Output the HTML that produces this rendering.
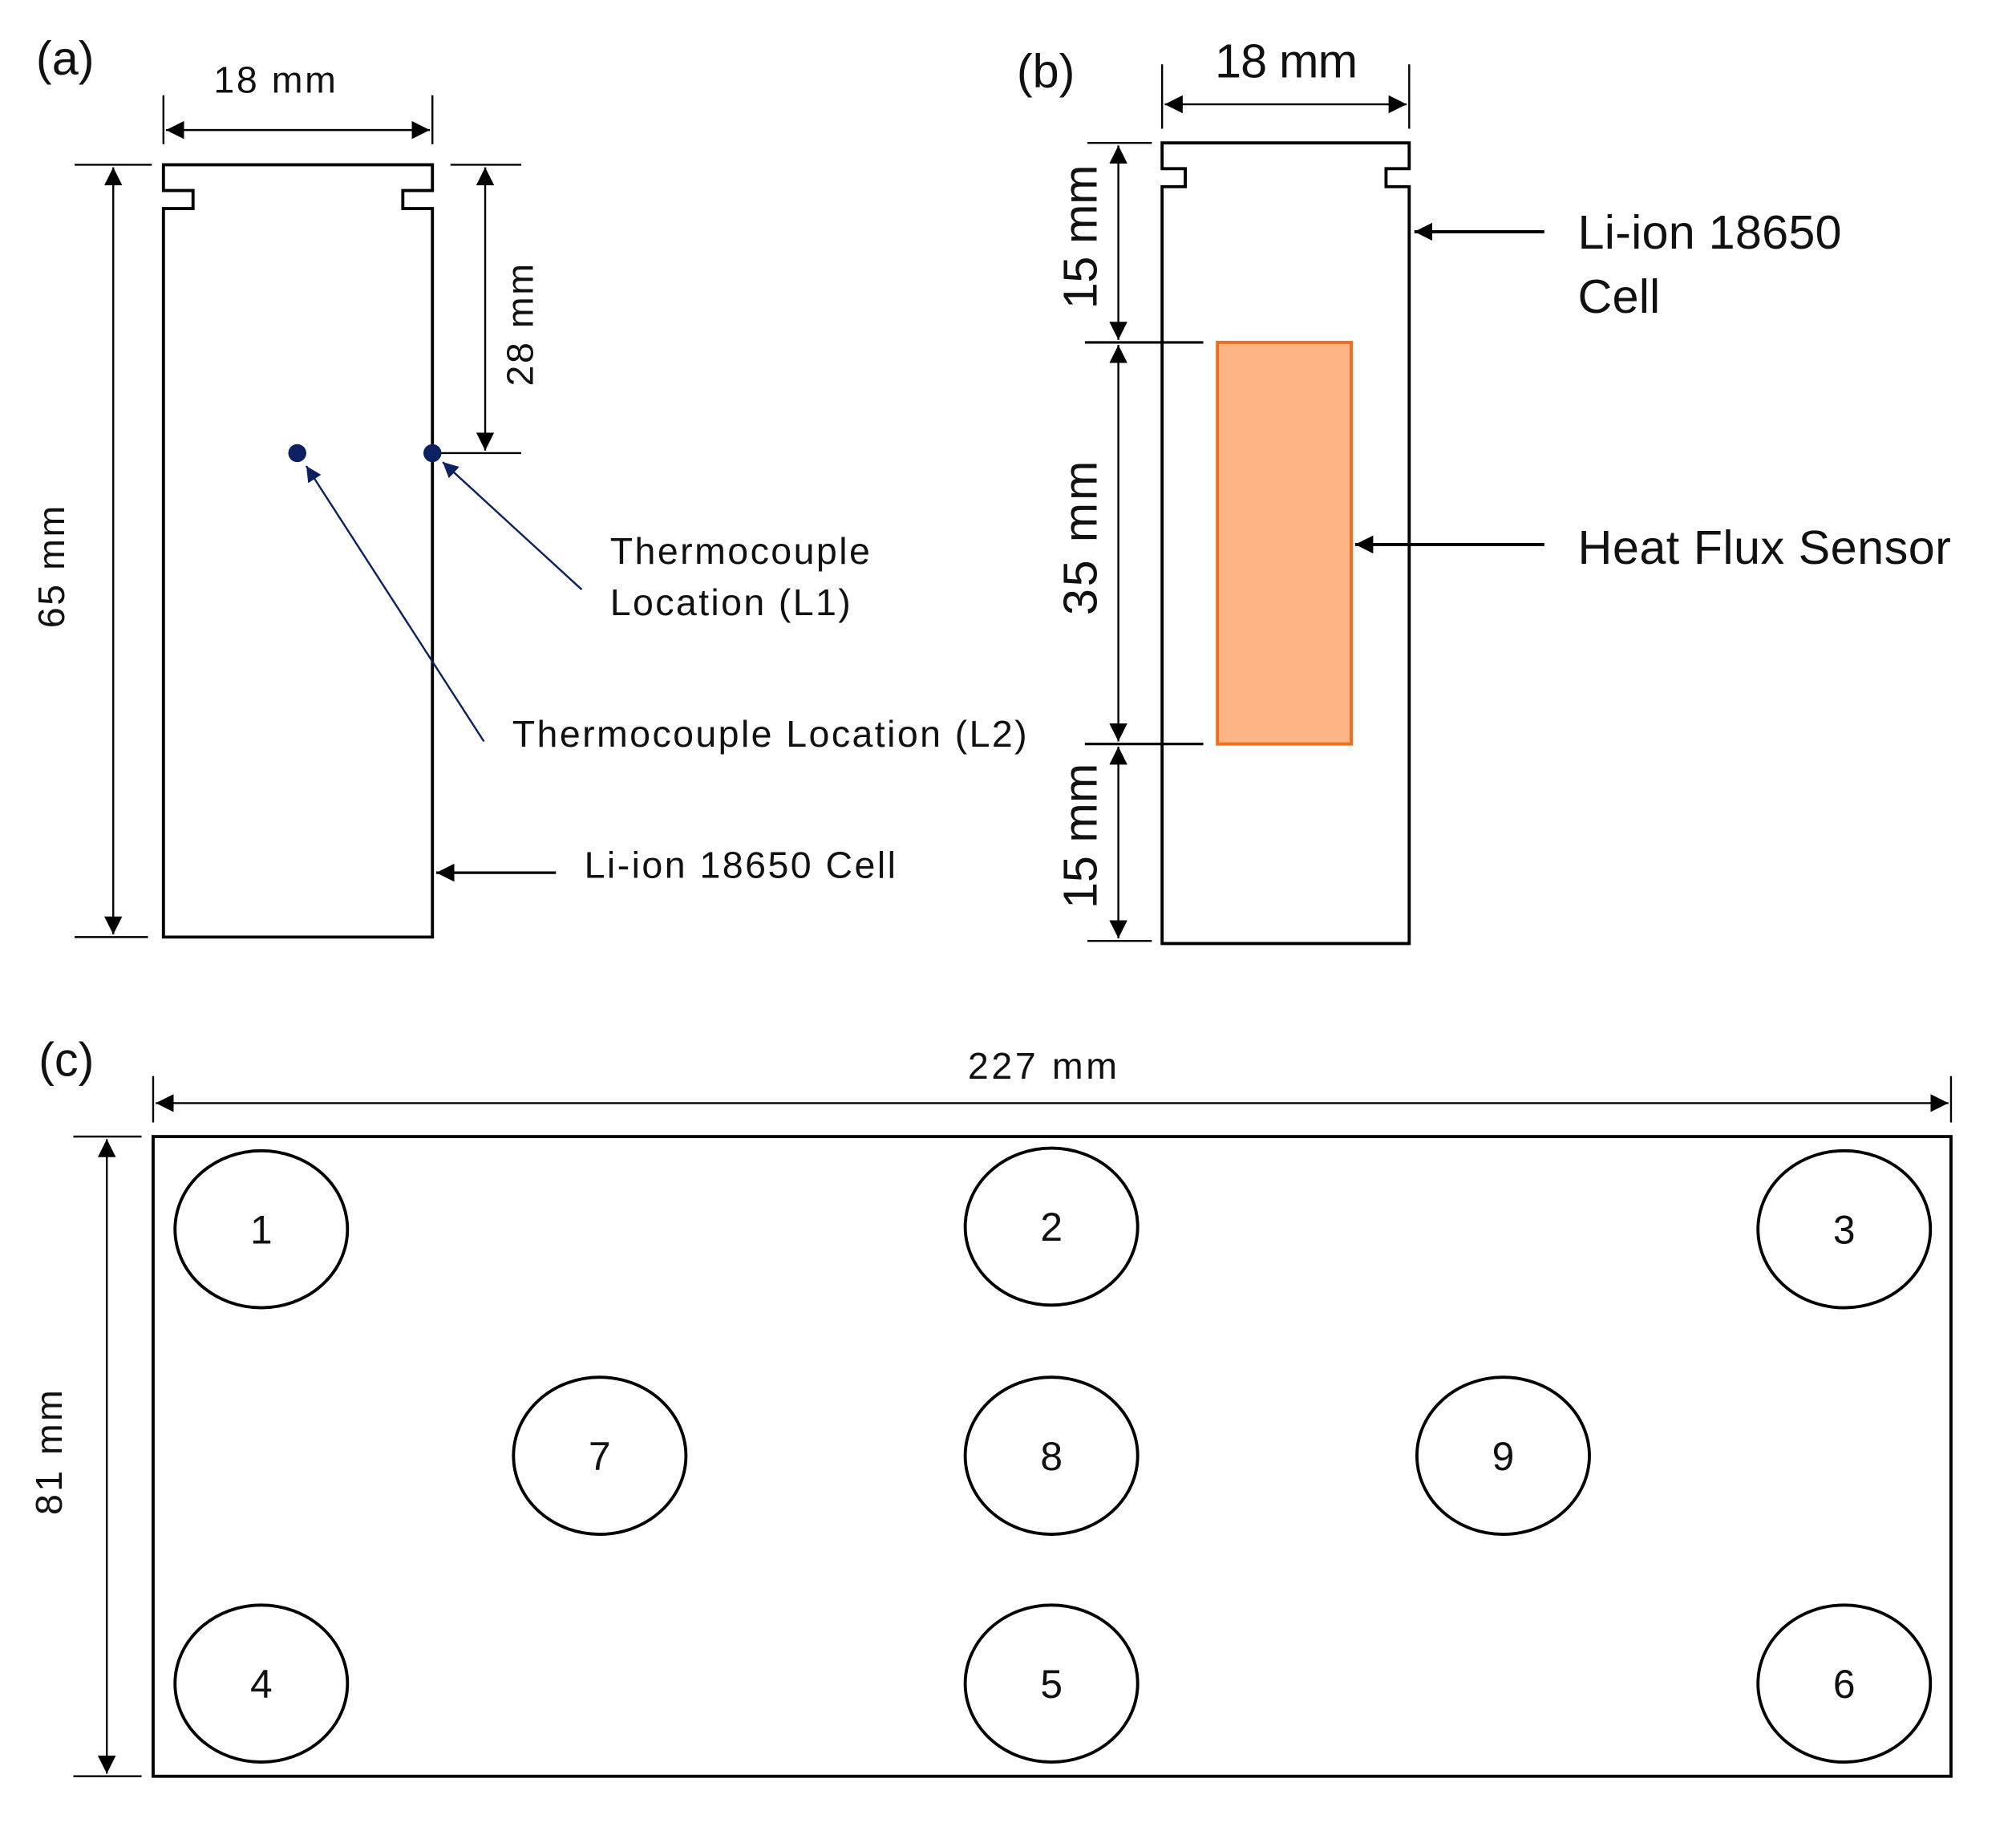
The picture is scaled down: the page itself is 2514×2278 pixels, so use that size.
<!DOCTYPE html>
<html><head><meta charset="utf-8"><style>
html,body{margin:0;padding:0;background:#fff;}
svg{display:block;}
text{font-family:"Liberation Sans",Arial,sans-serif;fill:#111;}
</style></head><body>
<svg width="2514" height="2278" viewBox="0 0 1566.5 1419.4" xmlns="http://www.w3.org/2000/svg">
<defs>
<marker id="ahb" viewBox="0 0 10 10" refX="10" refY="5" markerWidth="14" markerHeight="14" markerUnits="userSpaceOnUse" orient="auto-start-reverse"><path d="M0,0 L10,5 L0,10 z" fill="#000"/></marker>
<marker id="ahn" viewBox="0 0 10 10" refX="10" refY="5" markerWidth="12" markerHeight="12" markerUnits="userSpaceOnUse" orient="auto"><path d="M0,0 L10,5 L0,10 z" fill="#0d2060"/></marker>
</defs>
<g fill="none" stroke="#000" stroke-width="2.4">
<path d="M127,728 L127,162 L150,162 L150,148 L127,148 L127,128 L336,128 L336,148 L313,148 L313,162 L336,162 L336,728 Z"/>
<line x1="127" y1="74" x2="127" y2="112" stroke-width="1.5"/>
<line x1="336" y1="74" x2="336" y2="112" stroke-width="1.5"/>
<line x1="129" y1="101" x2="334" y2="101" stroke-width="1.5" marker-start="url(#ahb)" marker-end="url(#ahb)"/>
<line x1="58" y1="128" x2="118" y2="128" stroke-width="1.5"/>
<line x1="58" y1="728" x2="115" y2="728" stroke-width="1.5"/>
<line x1="88" y1="130" x2="88" y2="726" stroke-width="1.5" marker-start="url(#ahb)" marker-end="url(#ahb)"/>
<line x1="350" y1="128" x2="405" y2="128" stroke-width="1.5"/>
<line x1="340" y1="352" x2="405" y2="352" stroke-width="1.5"/>
<line x1="377" y1="130" x2="377" y2="350" stroke-width="1.5" marker-start="url(#ahb)" marker-end="url(#ahb)"/>
<line x1="432" y1="678" x2="339" y2="678" stroke-width="2" marker-end="url(#ahb)"/>
<path d="M903,733 L903,145 L921,145 L921,131 L903,131 L903,111 L1095,111 L1095,131 L1077,131 L1077,145 L1095,145 L1095,733 Z"/>
<line x1="903" y1="50" x2="903" y2="100" stroke-width="1.5"/>
<line x1="1095" y1="50" x2="1095" y2="100" stroke-width="1.5"/>
<line x1="905" y1="81" x2="1093" y2="81" stroke-width="1.5" marker-start="url(#ahb)" marker-end="url(#ahb)"/>
<line x1="845" y1="111" x2="895" y2="111" stroke-width="1.5"/>
<line x1="843" y1="266" x2="935" y2="266" stroke-width="2"/>
<line x1="843" y1="578" x2="935" y2="578" stroke-width="2"/>
<line x1="845" y1="731" x2="895" y2="731" stroke-width="1.5"/>
<line x1="869" y1="113" x2="869" y2="264" stroke-width="1.5" marker-start="url(#ahb)" marker-end="url(#ahb)"/>
<line x1="869" y1="268" x2="869" y2="576" stroke-width="1.5" marker-start="url(#ahb)" marker-end="url(#ahb)"/>
<line x1="869" y1="580" x2="869" y2="729" stroke-width="1.5" marker-start="url(#ahb)" marker-end="url(#ahb)"/>
<line x1="1200" y1="180" x2="1099" y2="180" stroke-width="2.4" marker-end="url(#ahb)"/>
<line x1="1200" y1="423" x2="1053" y2="423" stroke-width="2.4" marker-end="url(#ahb)"/>
<rect x="119" y="883" width="1397" height="497"/>
<line x1="119" y1="836" x2="119" y2="872" stroke-width="1.5"/>
<line x1="1516" y1="836" x2="1516" y2="872" stroke-width="1.5"/>
<line x1="121" y1="857" x2="1514" y2="857" stroke-width="1.5" marker-start="url(#ahb)" marker-end="url(#ahb)"/>
<line x1="57" y1="883" x2="110" y2="883" stroke-width="1.5"/>
<line x1="57" y1="1380" x2="110" y2="1380" stroke-width="1.5"/>
<line x1="83" y1="885" x2="83" y2="1378" stroke-width="1.5" marker-start="url(#ahb)" marker-end="url(#ahb)"/>
<ellipse cx="203" cy="955" rx="67" ry="61"/>
<ellipse cx="817" cy="953" rx="67" ry="61"/>
<ellipse cx="1433" cy="955" rx="67" ry="61"/>
<ellipse cx="466" cy="1131" rx="67" ry="61"/>
<ellipse cx="817" cy="1131" rx="67" ry="61"/>
<ellipse cx="1168" cy="1131" rx="67" ry="61"/>
<ellipse cx="203" cy="1308" rx="67" ry="61"/>
<ellipse cx="817" cy="1308" rx="67" ry="61"/>
<ellipse cx="1433" cy="1308" rx="67" ry="61"/>
</g>
<rect x="946" y="266" width="104" height="312" fill="#fdb585" stroke="#ed7021" stroke-width="2.5"/>
<circle cx="231" cy="352" r="7" fill="#0d2060"/>
<circle cx="336" cy="352" r="7" fill="#0d2060"/>
<line x1="452" y1="458" x2="344" y2="359" stroke="#0d2060" stroke-width="1.5" marker-end="url(#ahn)"/>
<line x1="376" y1="576" x2="238" y2="362" stroke="#0d2060" stroke-width="1.5" marker-end="url(#ahn)"/>
<text x="28" y="58" font-size="37">(a)</text>
<text x="790" y="68" font-size="37">(b)</text>
<text x="30" y="836" font-size="37">(c)</text>
<text x="166" y="72" font-size="29" textLength="95">18 mm</text>
<text transform="translate(50,488) rotate(-90)" font-size="29" textLength="95">65 mm</text>
<text transform="translate(414,300) rotate(-90)" font-size="29" textLength="95">28 mm</text>
<text x="474" y="438" font-size="29" textLength="202">Thermocouple</text>
<text x="474" y="478" font-size="29" textLength="187">Location (L1)</text>
<text x="398" y="580" font-size="29" textLength="400">Thermocouple Location (L2)</text>
<text x="454" y="682" font-size="29" textLength="242">Li-ion 18650 Cell</text>
<text x="944" y="60" font-size="37" textLength="111">18 mm</text>
<text transform="translate(852,240) rotate(-90)" font-size="37" textLength="112">15 mm</text>
<text transform="translate(852,478) rotate(-90)" font-size="37" textLength="120">35 mm</text>
<text transform="translate(852,706) rotate(-90)" font-size="37" textLength="113">15 mm</text>
<text x="1226" y="193" font-size="37" textLength="205">Li-ion 18650</text>
<text x="1226" y="243" font-size="37" textLength="64">Cell</text>
<text x="1226" y="438" font-size="37" textLength="290">Heat Flux Sensor</text>
<text x="752" y="838" font-size="29" textLength="116">227 mm</text>
<text transform="translate(48,1177) rotate(-90)" font-size="29" textLength="97">81 mm</text>
<g font-size="31" text-anchor="middle">
<text x="203" y="966">1</text>
<text x="817" y="964">2</text>
<text x="1433" y="966">3</text>
<text x="466" y="1142">7</text>
<text x="817" y="1142">8</text>
<text x="1168" y="1142">9</text>
<text x="203" y="1319">4</text>
<text x="817" y="1319">5</text>
<text x="1433" y="1319">6</text>
</g>
</svg>
</body></html>
